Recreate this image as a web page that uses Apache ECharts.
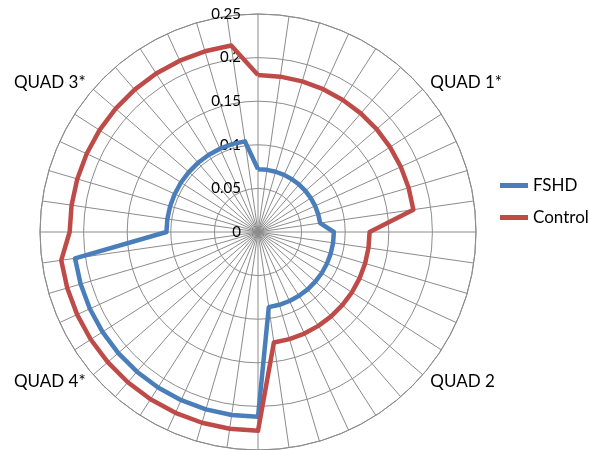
<!DOCTYPE html>
<html>
<head>
<meta charset="utf-8">
<script src="https://cdn.jsdelivr.net/npm/echarts@6/dist/echarts.min.js"></script>
<style>
html,body{margin:0;padding:0;background:#fff;}
#c{width:589px;height:450px;}
</style>
</head>
<body>
<div id="c"></div>
<script>
// 44 spokes, clockwise from top
const categories = ['', '', '', '', '', '', 'QUAD 1*', '', '', '', '',
                    '', '', '', '', '', 'QUAD 2', '', '', '', '', '',
                    '', '', '', '', '', '', 'QUAD 4*', '', '', '', '',
                    '', '', '', '', '', 'QUAD 3*', '', '', '', '', ''];
const fshd = [0.072, 0.072, 0.072, 0.072, 0.072, 0.072, 0.072, 0.072, 0.072, 0.072, 0.072,
              0.087, 0.087, 0.087, 0.087, 0.087, 0.087, 0.087, 0.087, 0.087, 0.087, 0.087,
              0.212, 0.212, 0.212, 0.212, 0.212, 0.212, 0.212, 0.212, 0.212, 0.212, 0.212,
              0.105, 0.105, 0.105, 0.105, 0.105, 0.105, 0.105, 0.105, 0.105, 0.105, 0.105];
const control = [0.180, 0.180, 0.180, 0.180, 0.180, 0.180, 0.180, 0.180, 0.180, 0.180, 0.180,
                 0.128, 0.128, 0.128, 0.128, 0.128, 0.128, 0.128, 0.128, 0.128, 0.128, 0.128,
                 0.228, 0.228, 0.228, 0.228, 0.228, 0.228, 0.228, 0.228, 0.228, 0.228, 0.228,
                 0.216, 0.216, 0.216, 0.216, 0.216, 0.216, 0.216, 0.216, 0.216, 0.216, 0.216];
const radiusTicks = ['0', '0.05', '0.1', '0.15', '0.2', '0.25'];

const n = categories.length;
function closed(arr) {
  const d = arr.map((v, i) => [v, i]);
  d.push([arr[0], n]);
  return d;
}
const font = 'Lato, "Open Sans", sans-serif';
const chart = echarts.init(document.getElementById('c'), null, {renderer: 'canvas'});
chart.setOption({
  animation: false,
  backgroundColor: '#fff',
  polar: {center: [258, 232], radius: 218},
  angleAxis: {
    type: 'value', min: 0, max: n, interval: 1,
    startAngle: 90, clockwise: true,
    axisLine: {show: true, lineStyle: {color: '#8c8c8c', width: 1}},
    axisTick: {show: false},
    axisLabel: {
      show: true, margin: 10, fontFamily: font, fontSize: 17, lineHeight: 1, color: '#000',
      formatter: v => (categories[v] || '')
    },
    splitLine: {show: true, lineStyle: {color: '#8c8c8c', width: 1}}
  },
  radiusAxis: {
    type: 'value', min: 0, max: 0.25, interval: 0.05,
    axisLine: {show: false},
    axisTick: {show: false},
    axisLabel: {
      show: true, margin: 17, fontFamily: font, fontSize: 15, color: '#000',
      formatter: v => radiusTicks[Math.round(v / 0.05)]
    },
    splitLine: {show: true, lineStyle: {color: '#8c8c8c', width: 1}}
  },
  legend: {
    orient: 'vertical', left: 500, top: 177, padding: 0,
    itemWidth: 28, itemHeight: 5, itemGap: 15,
    icon: 'rect',
    textStyle: {fontFamily: font, fontSize: 17, lineHeight: 17, color: '#000'},
    data: ['FSHD', 'Control']
  },
  series: [
    {name: 'FSHD', type: 'line', coordinateSystem: 'polar', data: closed(fshd),
     showSymbol: false, symbol: 'none', color: '#4A7EBB',
     lineStyle: {width: 4.5, color: '#4A7EBB', join: 'round'}},
    {name: 'Control', type: 'line', coordinateSystem: 'polar', data: closed(control),
     showSymbol: false, symbol: 'none', color: '#BE4B48',
     lineStyle: {width: 4.5, color: '#BE4B48', join: 'round'}}
  ]
});
</script>
</body>
</html>
